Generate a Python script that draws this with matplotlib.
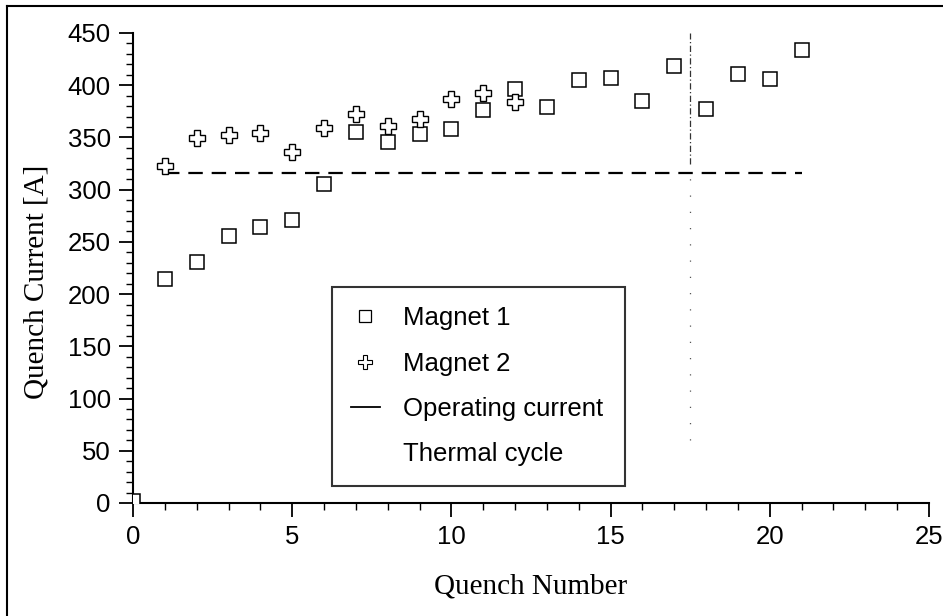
import matplotlib
matplotlib.use("Agg")
import matplotlib.pyplot as plt
from matplotlib.lines import Line2D
from matplotlib.ticker import MultipleLocator

# Data
magnet1_x = [0, 1, 2, 3, 4, 5, 6, 7, 8, 9, 10, 11, 12, 13, 14, 15, 16, 17, 18, 19, 20, 21]
magnet1_y = [2, 214, 231, 256, 264, 271, 305, 355, 346, 353, 358, 376, 396, 379, 405, 407, 385, 418, 377, 411, 406, 434]
magnet2_x = [1, 2, 3, 4, 5, 6, 7, 8, 9, 10, 11, 12]
magnet2_y = [323, 349, 352, 354, 336, 359, 372, 361, 368, 387, 393, 384]
operating_current = 316
operating_x = [1, 21]
thermal_cycle_x = 17.5
thermal_solid_y = [325, 450]
thermal_faint_y = [60, 325]

x_ticks = [0, 5, 10, 15, 20, 25]
y_ticks = [0, 50, 100, 150, 200, 250, 300, 350, 400, 450]

fig = plt.figure(figsize=(9.43, 6.16), dpi=100)
ax = fig.add_axes([133/943, 1-503/616, 796/943, 470/616])

# figure border (left & top visible)
fig.add_artist(Line2D([7/943, 7/943], [0, 1-6/616], transform=fig.transFigure, color='black', lw=1.5))
fig.add_artist(Line2D([7/943, 1], [1-6/616, 1-6/616], transform=fig.transFigure, color='black', lw=1.5))

ax.plot(operating_x, [operating_current]*2, color='black', lw=1.6,
        linestyle=(0, (6.5, 4)), zorder=2)
ax.plot([thermal_cycle_x]*2, thermal_solid_y, color='#333333', lw=0.9,
        linestyle=(0, (5, 2, 1, 2)), zorder=2)
ax.plot([thermal_cycle_x]*2, thermal_faint_y, color='#555555', lw=0.9,
        linestyle=(0, (1, 12)), zorder=2)

ax.plot(magnet1_x, magnet1_y, linestyle='none', marker='s', markersize=10.5,
        mfc='white', mec='black', mew=1.1, zorder=3, clip_on=True)
ax.plot(magnet2_x, magnet2_y, linestyle='none', marker='P', markersize=12,
        mfc='white', mec='black', mew=1.0, zorder=3)

ax.set_xlim(0, 25)
ax.set_ylim(0, 450)
ax.set_xticks(x_ticks)
ax.set_yticks(y_ticks)
ax.xaxis.set_minor_locator(MultipleLocator(1))
ax.yaxis.set_minor_locator(MultipleLocator(10))

for s in ['top', 'right']:
    ax.spines[s].set_visible(False)
for s in ['left', 'bottom']:
    ax.spines[s].set_linewidth(1.5)

ax.tick_params(which='major', direction='out', length=10, width=1.3,
               labelsize=18.5, pad=6)
ax.tick_params(which='minor', direction='out', length=5, width=1.0)
for lab in ax.get_xticklabels() + ax.get_yticklabels():
    lab.set_fontfamily('Liberation Sans')

ax.set_xlabel('Quench Number', fontfamily='Liberation Serif', fontsize=21)
ax.set_ylabel('Quench Current [A]', fontfamily='Liberation Serif', fontsize=21)
ax.xaxis.set_label_coords(0.5, -0.149)
ax.yaxis.set_label_coords(-0.105, 0.47)

handles = [
    Line2D([], [], linestyle='none', marker='s', markersize=9, mfc='white', mec='black', mew=0.9),
    Line2D([], [], linestyle='none', marker='P', markersize=10, mfc='white', mec='black', mew=0.8),
    Line2D([], [], color='black', lw=1.3),
    Line2D([], [], color='none', lw=0),
]
labels = ['Magnet 1', 'Magnet 2', 'Operating current', 'Thermal cycle']
leg = ax.legend(handles, labels, loc='upper left',
                bbox_to_anchor=((332-133)/796, (503-287)/470, 293/796, 0.0),
                mode='expand', prop={'family': 'Liberation Sans', 'size': 18.5},
                frameon=True, fancybox=False, edgecolor='black',
                borderpad=0.75, labelspacing=0.83, handlelength=1.1,
                handletextpad=0.9, borderaxespad=0)
leg.get_frame().set_linewidth(1.5)

fig.savefig('out.png', dpi=100)
